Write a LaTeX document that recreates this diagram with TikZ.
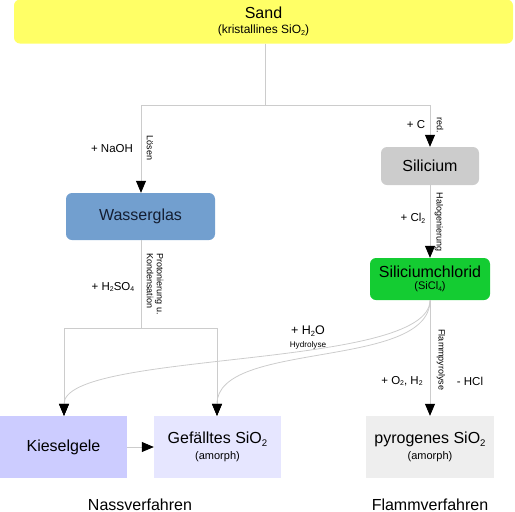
\documentclass[tikz,border=0pt]{standalone}
\usepackage{fontspec}
\setmainfont{Liberation Sans}
\usetikzlibrary{arrows.meta}
\definecolor{sandc}{RGB}{255,255,102}
\definecolor{wglas}{RGB}{114,159,207}
\definecolor{silc}{RGB}{204,204,204}
\definecolor{sicl}{RGB}{20,204,50}
\definecolor{kies}{RGB}{204,204,255}
\definecolor{gef}{RGB}{230,230,255}
\definecolor{pyro}{RGB}{238,238,238}
\definecolor{linec}{RGB}{204,204,204}
\newcommand{\sbs}[1]{\raisebox{-0.3ex}{\scalebox{0.6}{#1}}}
\begin{document}
\begin{tikzpicture}[x=1pt,y=-1pt,
  box/.style={rectangle,inner sep=0pt,align=center,text=black},
  rbox/.style={box,rounded corners=6pt},
  conn/.style={draw=linec,line width=0.8pt},
  arr/.style={conn,-{Triangle[length=12pt,width=10pt,fill=black,color=black]}},
  big/.style={font=\fontsize{16}{18}\selectfont},
  mid/.style={font=\fontsize{11.5}{13}\selectfont},
  sm/.style={font=\fontsize{8.2}{9}\selectfont},
  rot/.style={font=\fontsize{9}{10}\selectfont,rotate=-90,align=left}
]
\useasboundingbox (0,0) rectangle (515,512);
% boxes
\node[rbox,fill=sandc,minimum width=499pt,minimum height=44pt] (sand) at (263.5,21.5)
  {{\fontsize{16}{18}\selectfont Sand}\\[3pt]{\fontsize{12}{13}\selectfont (kristallines SiO\sbs{2})}};
\node[rbox,fill=wglas,minimum width=149pt,minimum height=47pt,big,text={rgb,255:red,20;green,30;blue,50}] (wg) at (140.5,216.5) {Wasserglas};
\node[rbox,fill=silc,minimum width=98pt,minimum height=38pt,big] (si) at (430,166) {Silicium};
\node[rbox,fill=sicl,minimum width=120pt,minimum height=42pt] (sicl4) at (430,279)
  {{\fontsize{16}{17}\selectfont Siliciumchlorid}\\[0pt]{\fontsize{11}{12}\selectfont (SiCl\sbs{4})}};
\node[box,fill=kies,minimum width=127pt,minimum height=62pt,big] (kg) at (63.5,447) {Kieselgele};
\node[box,fill=gef,minimum width=127pt,minimum height=62pt] (gf) at (217.5,447)
  {{\fontsize{16}{18}\selectfont Gefälltes SiO\sbs{2}}\\[4pt]{\fontsize{11}{13}\selectfont (amorph)}};
\node[box,fill=pyro,minimum width=128pt,minimum height=62pt] (py) at (430,447)
  {{\fontsize{16}{18}\selectfont pyrogenes SiO\sbs{2}}\\[4pt]{\fontsize{11}{13}\selectfont (amorph)}};
% junction coordinates
\coordinate (j1) at (265,105);
\coordinate (jl) at (141,105);
\coordinate (jr) at (430,105);
\coordinate (j2) at (141,328);
\coordinate (j2l) at (64,328);
\coordinate (j2r) at (217,328);
% connectors
\draw[conn] (sand.south -| j1) -- (j1);
\draw[conn] (jl) -- (jr);
\draw[arr] (jl) -- (jl |- wg.north);
\draw[arr] (jr) -- (si.north);
\draw[arr] (si.south) -- (sicl4.north);
\draw[conn] (wg.south -| j2) -- (j2);
\draw[conn] (j2l) -- (j2r);
\draw[arr] (j2l) -- (j2l |- kg.north);
\draw[arr] (j2r) -- (j2r |- gf.north);
\draw[arr] (kg.east) -- (gf.west);
\draw[arr] (sicl4.south) -- (py.north);
\draw[arr] (sicl4.south) .. controls (430,370) and (64,350) .. (kg.north -| j2l);
\draw[arr] (sicl4.south) .. controls (430,370) and (217,340) .. (gf.north -| j2r);
% labels
\node[mid] (lnaoh) at (112,149) {+ NaOH};
\node[rot] (lloesen) at (150,148) {Lösen};
\node[mid] (lc) at (416,125) {+ C};
\node[rot] (lred) at (440,125) {red.};
\node[mid] (lcl) at (413,218) {+ Cl\sbs{2}};
\node[rot] (lhal) at (439,222) {Halogenierung};
\node[mid] (lhs) at (113,287) {+ H\sbs{2}SO\sbs{4}};
\node[rot,align=left] (lprot) at (155,284) {Protonierung u.\\Kondensation};
\node[mid,font=\fontsize{12.5}{14}\selectfont] (lho) at (308,331) {+ H\sbs{2}O};
\node[sm] (lhyd) at (308,345) {Hydrolyse};
\node[rot] (lflam) at (441,360) {Flammpyrolyse};
\node[mid] (lo) at (402,381) {+ O\sbs{2}, H\sbs{2}};
\node[mid] (lhcl) at (470,381) {- HCl};
\node[font=\fontsize{16}{18}\selectfont] (nass) at (140,505) {Nassverfahren};
\node[font=\fontsize{16}{18}\selectfont] (flam) at (430,505) {Flammverfahren};
\end{tikzpicture}
\end{document}
